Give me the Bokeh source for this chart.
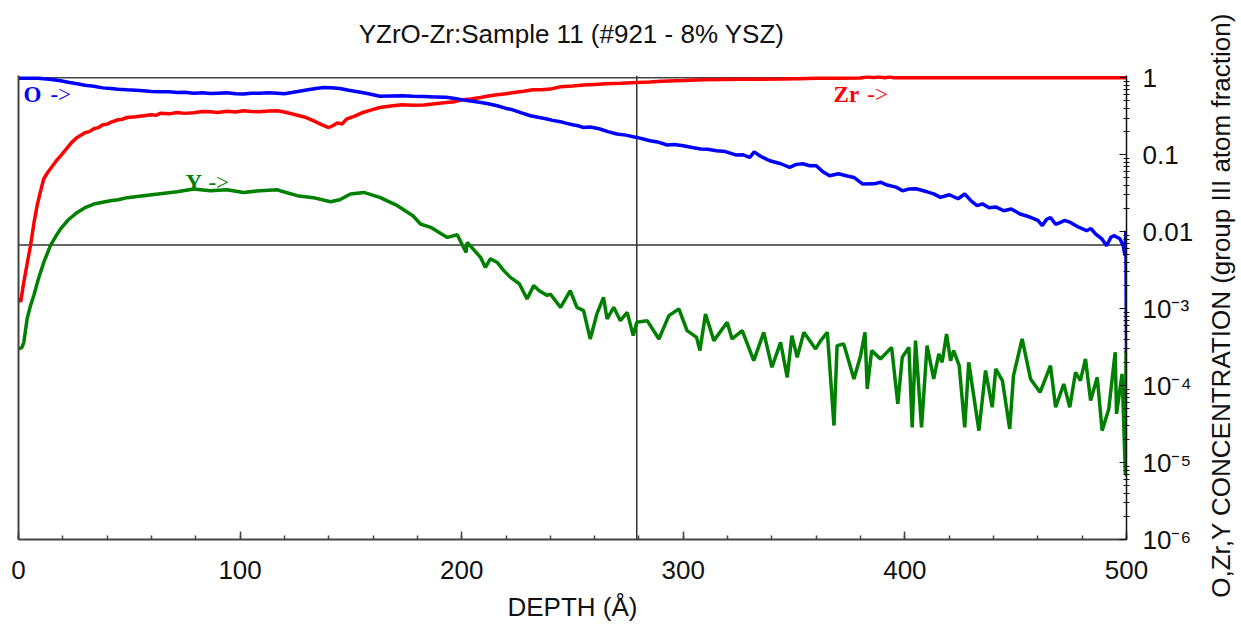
import math
from bokeh.plotting import figure
from bokeh.layouts import row, column
from bokeh.models import (Range1d, LogAxis, FixedTicker, Span, Label)
from bokeh.core.properties import value
from bokeh.embed import file_html
from bokeh.resources import INLINE

# ---------------- data ----------------
o_depth = [0, 5, 9, 11.3, 15, 19, 23, 26.5, 30, 34, 38, 41.5, 45, 49, 53, 56.4, 60, 64, 68, 71.6,
           75, 79, 83, 86.6, 90, 94, 98, 101.6, 105, 109, 113, 116.7, 120, 124, 128, 132, 135, 137.8,
           141, 145, 149, 153, 158, 163, 168, 173, 178, 183, 188, 193, 197, 201, 204, 208, 212, 216,
           220, 223, 227, 231, 235, 238, 241, 244.6, 247, 250, 253, 255, 258, 262, 266, 270, 274, 279,
           282, 285, 289, 292.7, 296, 300, 304, 307.8, 311, 315, 319, 324, 327, 330, 332, 335, 339,
           344, 348, 351, 354, 357, 360, 363, 366, 370, 374, 377, 381, 386, 389, 392, 396, 399, 402,
           405, 410, 413, 416, 420, 424, 427, 430, 432.6, 435, 438, 441, 444.6, 448, 452, 455, 457,
           460, 462, 464, 465.7, 468, 470, 472, 474.7, 478, 482, 484, 486, 489, 491, 493, 494.5, 497,
           498.5, 499.3, 499.7, 500]
o_conc = [0.99, 0.99, 0.985, 0.97, 0.95, 0.914, 0.87, 0.836, 0.80, 0.776, 0.74, 0.726, 0.71, 0.698,
          0.69, 0.678, 0.665, 0.658, 0.66, 0.644, 0.65, 0.629, 0.64, 0.625, 0.632, 0.638, 0.62, 0.614,
          0.63, 0.629, 0.64, 0.632, 0.62, 0.65, 0.678, 0.71, 0.73, 0.748, 0.745, 0.726, 0.69, 0.658,
          0.62, 0.575, 0.58, 0.584, 0.575, 0.572, 0.565, 0.558, 0.54, 0.513, 0.50, 0.481, 0.46, 0.433,
          0.40, 0.384, 0.35, 0.321, 0.305, 0.294, 0.28, 0.268, 0.258, 0.245, 0.236, 0.226, 0.23, 0.218,
          0.20, 0.186, 0.18, 0.168, 0.16, 0.152, 0.145, 0.134, 0.136, 0.131, 0.124, 0.119, 0.118, 0.113,
          0.11, 0.0991, 0.1, 0.0922, 0.109, 0.095, 0.0836, 0.0764, 0.0684, 0.075, 0.0764, 0.072, 0.072,
          0.06, 0.0533, 0.0567, 0.053, 0.0507, 0.0416, 0.0419, 0.044, 0.0404, 0.038, 0.0341, 0.036,
          0.0362, 0.033, 0.031, 0.0279, 0.0302, 0.0268, 0.0309, 0.025, 0.0218, 0.023, 0.0205, 0.021,
          0.0187, 0.0197, 0.0170, 0.016, 0.0152, 0.014, 0.0120, 0.0145, 0.0153, 0.0125, 0.0131, 0.014,
          0.0132, 0.0116, 0.0103, 0.011, 0.0094, 0.008, 0.00658, 0.0085, 0.00887, 0.0081, 0.0066,
          0.0049, 0.0103, 0.000268]

zr_depth = [0, 1, 2.4, 4, 5.4, 7, 8.4, 10, 11.4, 13, 14.4, 17, 19, 22, 24, 26.5, 30, 32, 34, 36, 38,
            40, 41.5, 45, 47, 49, 53, 56.4, 60, 62, 64, 68, 71.6, 75, 79, 83, 86.6, 90, 94, 98, 101.6,
            105, 109, 113, 116.7, 120, 125, 129, 133, 137, 140, 142, 144, 146, 148, 152, 155, 159, 163,
            168, 173, 178, 183, 188, 193, 197, 200, 204, 208.5, 212, 216, 220, 223.5, 228, 232, 236,
            240, 244.6, 250, 255, 260, 265, 272, 279, 285, 290, 300, 309, 317, 325, 335, 344, 352, 360,
            370, 380, 383, 386, 388, 391, 393, 395, 420, 460, 500]
zr_conc = [0.00135, 0.00123, 0.0022, 0.00396, 0.00658, 0.0131, 0.0218, 0.0341, 0.0488, 0.058, 0.0658,
           0.083, 0.097, 0.123, 0.145, 0.168, 0.193, 0.20, 0.218, 0.225, 0.245, 0.25, 0.263, 0.285,
           0.29, 0.305, 0.312, 0.321, 0.331, 0.325, 0.346, 0.34, 0.354, 0.345, 0.351, 0.365, 0.362,
           0.355, 0.367, 0.36, 0.373, 0.365, 0.362, 0.37, 0.373, 0.36, 0.331, 0.31, 0.277, 0.245, 0.226,
           0.24, 0.26, 0.25, 0.291, 0.32, 0.351, 0.38, 0.411, 0.43, 0.446, 0.44, 0.442, 0.46, 0.478,
           0.49, 0.518, 0.53, 0.555, 0.58, 0.601, 0.62, 0.644, 0.67, 0.698, 0.70, 0.713, 0.764, 0.78,
           0.804, 0.82, 0.836, 0.85, 0.869, 0.88, 0.901, 0.92, 0.942, 0.95, 0.956, 0.96, 0.962, 0.975,
           0.985, 0.99, 0.994, 1.03, 1.01, 1.035, 1.0, 1.03, 1.0, 1.0, 1.0, 1.0]

y_depth = [0, 1.5, 2.4, 3.9, 5.4, 6.9, 9, 11.4, 14.4, 17, 19, 22.5, 26.5, 30, 34, 38, 41.5, 45, 49,
           56.4, 64, 71.6, 79, 86.6, 94, 101.6, 109, 116.7, 118, 125.8, 133, 140.8, 145, 149.8, 155.8,
           163, 171, 178, 181.4, 186, 193.5, 198, 202, 202.5, 208.5, 210.7, 213, 216, 219, 222, 226,
           229.5, 232.5, 235, 238.6, 240, 244.6, 249, 252, 255, 258, 261, 264, 265.6, 268.6, 271.6,
           274.7, 277.4, 279, 283.7, 289, 293.5, 298, 301.7, 306, 307.5, 310, 313.8, 319.8, 322, 326.6,
           331.8, 336.3, 340, 343.9, 346.9, 349, 351.4, 354.4, 359.7, 362, 365, 368, 369.4, 372.4, 377,
           380, 382, 383, 385, 389, 394, 396.8, 398.8, 401.8, 403.3, 404.8, 407.5, 410, 413, 415.3,
           416.8, 418.8, 420.6, 422, 424.5, 427, 428.8, 433.4, 436.4, 439.4, 441, 444, 447.3, 449,
           452.9, 456.7, 461, 465.7, 468, 471.7, 474.4, 477, 479.2, 481.5, 483.8, 486.8, 489, 492,
           494.9, 495.5, 498, 499.5, 499.8, 500]
y_conc = [0.0003, 0.000312, 0.000365, 0.000741, 0.00109, 0.00148, 0.00245, 0.00399, 0.00658, 0.00887,
          0.0109, 0.0143, 0.0178, 0.0205, 0.0229, 0.0242, 0.0253, 0.026, 0.0277, 0.0294, 0.0312, 0.033,
          0.0359, 0.0341, 0.0351, 0.0324, 0.0341, 0.0351, 0.0341, 0.0294, 0.0277, 0.0245, 0.026, 0.0309,
          0.0324, 0.0279, 0.0218, 0.0161, 0.0126, 0.0114, 0.00843, 0.00914, 0.00538, 0.00726, 0.00464,
          0.00344, 0.00446, 0.00399, 0.00312, 0.00255, 0.00211, 0.00134, 0.00199, 0.00171, 0.00148,
          0.00155, 0.00104, 0.00171, 0.00104, 0.000942, 0.000404, 0.000853, 0.0014, 0.000735, 0.00104,
          0.000698, 0.000895, 0.000446, 0.000664, 0.000698, 0.000404, 0.000811, 0.000991, 0.000518,
          0.000424, 0.000285, 0.000853, 0.000384, 0.000664, 0.000404, 0.000518, 0.000211, 0.000492,
          0.000173, 0.000365, 0.000128, 0.000446, 0.000233, 0.000492, 0.0003, 0.000384, 0.000492,
          0.0000303, 0.000331, 0.000348, 0.000122, 0.000245, 0.000492, 0.0000906, 0.000285, 0.000222,
          0.000314, 0.0000578, 0.000233, 0.000314, 0.0000287, 0.000384, 0.0000287, 0.000331, 0.000122,
          0.000258, 0.000201, 0.000469, 0.000211, 0.000285, 0.000182, 0.0000287, 0.000201, 0.000026,
          0.000157, 0.0000523, 0.000165, 0.000116, 0.0000274, 0.000135, 0.000404, 0.000122, 0.0000819,
          0.000182, 0.0000523, 0.000105, 0.0000523, 0.000149, 0.000116, 0.000222, 0.0000638, 0.000128,
          0.000026, 0.0000498, 0.000271, 0.0000429, 0.000142, 0.00000713, 0.000285, 0.00000658]

x_ticks = [0, 100, 200, 300, 400, 500]
y_ticks = [1e-6, 1e-5, 1e-4, 1e-3, 1e-2, 1e-1, 1]
y_tick_labels = ["10\u207b\u2076", "10\u207b\u2075", "10\u207b\u2074", "10\u207b\u00b3", "0.01", "0.1", "1"]
cursor_depth = 279
cursor_conc = 0.0067

TITLE = "YZrO-Zr:Sample 11 (#921 - 8% YSZ)"
XLABEL = "DEPTH (\u00c5)"
YLABEL = "O,Zr,Y CONCENTRATION (group III atom fraction)"

FONT = "Liberation Sans"
BLUE, RED, GREEN = "#0000ff", "#ff0000", "#008000"

W_MAIN, W_SIDE, H_TOP, H_ALL = 1196, 45, 62, 627

def blank(w, h):
    f = figure(width=w, height=h, x_range=Range1d(0, w), y_range=Range1d(0, h),
               output_backend="svg", toolbar_location=None, title=None,
               x_axis_location=None, y_axis_location=None, min_border=0)
    f.outline_line_color = None
    f.grid.visible = False
    f.background_fill_color = "white"
    f.border_fill_color = "white"
    return f

# title strip
top = blank(W_MAIN, H_TOP)
top.text(x=[597], y=[H_TOP - 33], text=[TITLE], text_align="center", text_baseline="middle",
         text_font=value(FONT), text_font_size="26px", text_color="#111111")

# right strip holding the rotated axis title (reads bottom to top)
side = blank(W_SIDE, H_ALL)
side.text(x=[24], y=[H_ALL - 305], text=[YLABEL], angle=math.pi / 2, text_align="center",
          text_baseline="middle", text_font=value(FONT), text_font_size="26px", text_color="#111111")

p = figure(width=W_MAIN, height=H_ALL - H_TOP, x_range=Range1d(0, 500), y_range=Range1d(1e-6, 10 ** 0.03),
           y_axis_type="log", output_backend="svg", toolbar_location=None, title=None,
           min_border_left=18, min_border_right=W_MAIN - 1126, min_border_top=75 - H_TOP, min_border_bottom=88)
p.background_fill_color = "white"
p.border_fill_color = "white"
p.outline_line_color = None
p.grid.visible = False

# bottom axis
xa = p.xaxis[0]
xa.ticker = FixedTicker(ticks=x_ticks, minor_ticks=[v for v in range(0, 501, 20)])
xa.axis_line_color = "#444444"
xa.axis_line_width = 2
xa.major_tick_in = 8
xa.major_tick_out = 0
xa.minor_tick_in = 4
xa.minor_tick_out = 0
xa.major_tick_line_color = "#444444"
xa.minor_tick_line_color = "#444444"
xa.major_tick_line_width = 1.5
xa.minor_tick_line_width = 1.5
xa.major_label_text_font = FONT
xa.major_label_text_font_size = "26px"
xa.major_label_text_color = "#111111"
xa.major_label_standoff = 21
xa.axis_label = XLABEL
xa.axis_label_text_font = FONT
xa.axis_label_text_font_size = "26px"
xa.axis_label_text_font_style = "normal"
xa.axis_label_text_color = "#111111"
xa.axis_label_standoff = 10

# left spine only
la = p.yaxis[0]
la.ticker = FixedTicker(ticks=[])
la.axis_line_color = "#444444"
la.axis_line_width = 2
la.major_tick_line_color = None
la.minor_tick_line_color = None

# right log axis
minor = [k * 10.0 ** e for e in range(-6, 0) for k in range(2, 10)]
ra = LogAxis(ticker=FixedTicker(ticks=y_ticks, minor_ticks=minor),
             major_label_overrides={t: s for t, s in zip(y_ticks, y_tick_labels)})
ra.axis_line_color = "#111111"
ra.axis_line_width = 1.5
ra.major_tick_in = 7
ra.major_tick_out = 0
ra.minor_tick_in = 3
ra.minor_tick_out = 3
ra.major_tick_line_color = "#111111"
ra.minor_tick_line_color = "#111111"
ra.major_label_text_font = FONT
ra.major_label_text_font_size = "26px"
ra.major_label_text_color = "#111111"
ra.major_label_standoff = 13
p.add_layout(ra, "right")

# cursor lines and the 1.0 line
p.add_layout(Span(location=1.0, dimension="width", line_color="#444444", line_width=1.5, level="underlay"))
p.add_layout(Span(location=cursor_depth, dimension="height", line_color="#333333", line_width=1.5, level="underlay"))
p.add_layout(Span(location=cursor_conc, dimension="width", line_color="#333333", line_width=1.5, level="underlay"))

p.line(y_depth, y_conc, line_color=GREEN, line_width=3.5)
p.line(zr_depth, zr_conc, line_color=RED, line_width=3.5)
p.line(o_depth, o_conc, line_color=BLUE, line_width=3.5)

SERIF = "Liberation Serif"
def tag(x, y, txt, color, bold):
    p.add_layout(Label(x=x, y=y, text=txt, text_color=color, text_font=SERIF,
                       text_font_size="23px", text_font_style="bold" if bold else "normal",
                       text_baseline="alphabetic", text_align="left"))

tag(2.3, 0.607, "O", BLUE, True)
tag(14.4, 0.607, "->", BLUE, False)
tag(367.8, 0.607, "Zr", RED, True)
tag(383.0, 0.607, "->", RED, False)
tag(75.4, 0.0436, "Y", GREEN, True)
tag(85.7, 0.0436, "->", GREEN, False)

layout = row(column(top, p, spacing=0), side, spacing=0)
open("out.html", "w").write(file_html(layout, INLINE))
